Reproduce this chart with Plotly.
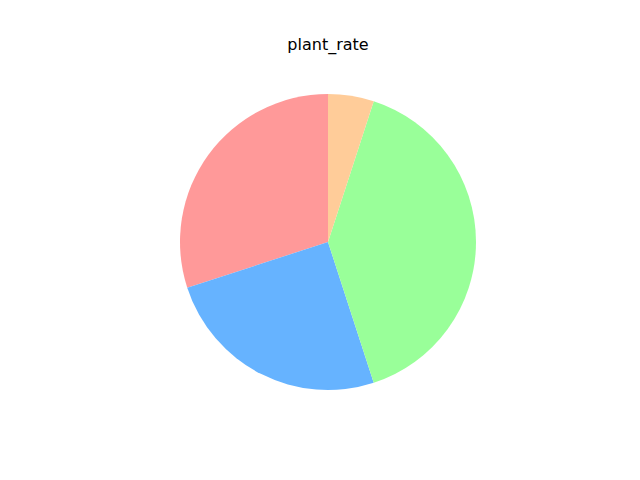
import plotly.graph_objects as go

categories = ["A", "B", "C", "D"]
values = [30, 25, 40, 5]
colors = ["#ff9999", "#66b3ff", "#99ff99", "#ffcc99"]
title = "plant_rate"

# page body has an 8px default margin; compensate
off = 8

fig = go.Figure(go.Pie(
    labels=categories,
    values=values,
    marker=dict(colors=colors, line=dict(width=0)),
    sort=False,
    direction="counterclockwise",
    rotation=-108,
    textinfo="none",
    hoverinfo="label+percent",
    domain=dict(x=[(180 - off)/640, (476 - off)/640],
                y=[1-(390 - off)/480, 1-(94 - off)/480]),
    showlegend=False,
))

fig.update_layout(
    width=640, height=480,
    margin=dict(l=0, r=0, t=0, b=0),
    paper_bgcolor="white",
    plot_bgcolor="white",
    title=dict(text=title, x=(328 - off)/640, xanchor="center", y=1-(44 - off)/480, yanchor="middle",
               font=dict(family="DejaVu Sans", size=16, color="black")),
)

fig.write_html("out.html")
